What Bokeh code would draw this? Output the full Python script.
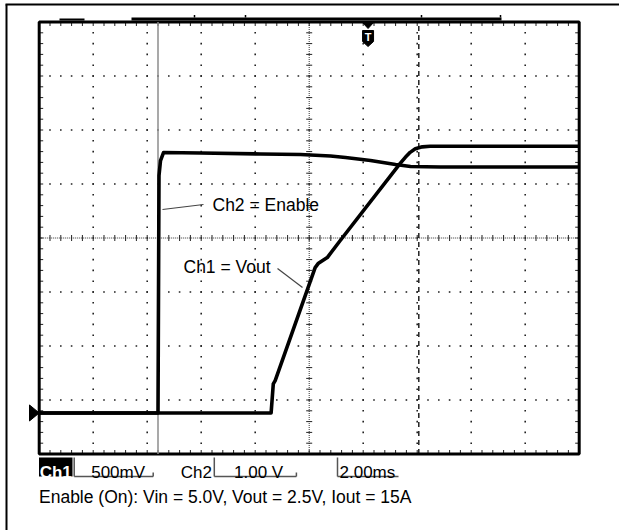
import math
from bokeh.plotting import figure
from bokeh.models import Range1d, Label
from bokeh.embed import file_html
from bokeh.resources import INLINE

# ---------------- data ----------------
# Ch1 = Vout (500 mV/div), Ch2 = Enable (1.00 V/div), 2.00 ms/div
ch1_time_ms = [0.0, 8.59, 8.67, 8.74, 10.22, 10.33, 10.67, 11.15, 13.37, 13.56, 13.74, 13.93, 14.19, 14.48, 20.0]
ch1_volts   = [0.0, 0.0, 0.27, 0.30, 1.346, 1.383, 1.439, 1.597, 2.311, 2.367, 2.413, 2.446, 2.464, 2.469, 2.469]

ch2_time_ms = [0.0, 4.40, 4.437, 4.493, 4.604, 5.974, 8.196, 9.678, 10.789, 11.344, 12.27, 13.197, 13.752, 14.863, 20.0]
ch2_volts   = [0.0, 0.0, 4.397, 4.675, 4.823, 4.814, 4.796, 4.786, 4.759, 4.731, 4.675, 4.601, 4.564, 4.555, 4.555]

scale_labels = ["Ch1", "500mV", "Ch2", "1.00 V", "2.00ms"]
caption = "Enable (On): Vin = 5.0V, Vout = 2.5V, Iout = 15A"
trace_labels = ["Ch2 = Enable", "Ch1 = Vout"]

MS_PER_DIV = 2.0
CH1_V_PER_DIV = 0.5
CH2_V_PER_DIV = 1.0
X_DIVS = 10
Y_DIVS = 8
GROUND_DIV = -3.24
CURSOR_MS = 4.40
TRIG_LINE_MS = 14.06
TRIG_MS = 12.18

# ---------------- layout (reference pixel geometry) ----------------
SCREEN_L = 38.7
SCREEN_CY = 237.5
PX_PER_MS = 27.0
PX_PER_DIV = 54.0
FIG_X, FIG_Y = 0, 0
W, H = 619, 530

def fx(px):
    return (px - SCREEN_L) / PX_PER_MS

def fy(py):
    return (SCREEN_CY - py) / PX_PER_DIV

X0, X1 = 0.0, X_DIVS * MS_PER_DIV
Y0, Y1 = -Y_DIVS / 2, Y_DIVS / 2

yb, yt = fy(FIG_Y + H), fy(FIG_Y)
p = figure(width=W, height=H, output_backend="svg", toolbar_location=None,
           x_range=Range1d(fx(FIG_X), fx(FIG_X + W)), y_range=Range1d(yb, yt),
           x_axis_type=None, y_axis_type=None, min_border=0, title=None)
p.extra_y_ranges = {
    "ch1": Range1d((yb - GROUND_DIV) * CH1_V_PER_DIV, (yt - GROUND_DIV) * CH1_V_PER_DIV),
    "ch2": Range1d((yb - GROUND_DIV) * CH2_V_PER_DIV, (yt - GROUND_DIV) * CH2_V_PER_DIV),
}
p.outline_line_color = None
p.background_fill_color = "white"
p.border_fill_color = "white"
p.grid.visible = False

FONT = "Liberation Sans"

# outer frame (top and left edges)
p.segment(x0=[fx(5), fx(6)], y0=[fy(4), fy(4)], x1=[fx(FIG_X + W), fx(6)], y1=[fy(4), fy(FIG_Y + H)],
          line_color="black", line_width=2)

# graticule dots
gx, gy = [], []
for i in range(1, X_DIVS):
    if i == X_DIVS // 2:
        continue
    for k in range(Y_DIVS * 5 + 1):
        gx.append(i * MS_PER_DIV)
        gy.append(Y0 + k * 0.2)
for j in range(1, Y_DIVS):
    if j == Y_DIVS // 2:
        continue
    for k in range(X_DIVS * 5 + 1):
        gx.append(k * MS_PER_DIV / 5)
        gy.append(Y0 + j)
p.scatter(gx, gy, marker="square", size=1.6, color="#222222", line_width=0)

# center cross lines with ticks
p.segment(x0=[X0, 10.0], y0=[0.0, Y0], x1=[X1, 10.0], y1=[0.0, Y1],
          line_color="#333333", line_width=1, line_dash="1 1")
tx0, ty0, tx1, ty1 = [], [], [], []
for k in range(X_DIVS * 5 + 1):
    x = k * MS_PER_DIV / 5
    tx0.append(x); tx1.append(x); ty0.append(-3 / PX_PER_DIV); ty1.append(3 / PX_PER_DIV)
for k in range(Y_DIVS * 5 + 1):
    y = Y0 + k * 0.2
    tx0.append(10 - 3 / PX_PER_MS); tx1.append(10 + 3 / PX_PER_MS); ty0.append(y); ty1.append(y)
# border ticks
for k in range(X_DIVS * 5 + 1):
    x = k * MS_PER_DIV / 5
    tx0 += [x, x]; tx1 += [x, x]
    ty0 += [Y1, Y0]; ty1 += [Y1 - 4 / PX_PER_DIV, Y0 + 4 / PX_PER_DIV]
for k in range(Y_DIVS * 5 + 1):
    y = Y0 + k * 0.2
    tx0 += [X0, X1]; tx1 += [X0 + 4 / PX_PER_MS, X1 - 4 / PX_PER_MS]
    ty0 += [y, y]; ty1 += [y, y]
p.segment(x0=tx0, y0=ty0, x1=tx1, y1=ty1, line_color="#222222", line_width=1)

# screen border
p.quad(left=X0, right=X1, bottom=Y0, top=Y1, fill_color=None, line_color="black", line_width=3)

# record bar above screen
p.quad(left=fx(131), right=fx(501), bottom=fy(20), top=fy(17), fill_color="black", line_color=None)
p.segment(x0=[fx(59)], y0=[fy(19)], x1=[fx(84)], y1=[fy(19)], line_color="black", line_width=2)
bar_ticks = [fx(194), fx(245), fx(421), fx(500)]
p.segment(x0=bar_ticks, y0=[fy(17)] * 4, x1=bar_ticks, y1=[fy(14.5)] * 4, line_color="black", line_width=1.5)

# cursor and trigger position lines
p.segment(x0=[CURSOR_MS], y0=[Y0], x1=[CURSOR_MS], y1=[Y1], line_color="#8c8c8c", line_width=1.5)
p.segment(x0=[TRIG_LINE_MS], y0=[Y0], x1=[TRIG_LINE_MS], y1=[Y1], line_color="black", line_width=1.3,
          line_dash="5 4")

# traces
p.line(ch2_time_ms, ch2_volts, y_range_name="ch2", line_color="black", line_width=3.6, line_join="round")
p.line(ch1_time_ms, ch1_volts, y_range_name="ch1", line_color="black", line_width=3.6, line_join="round")

# ground marker
p.patch([fx(29), fx(38.7), fx(29)], [GROUND_DIV + 8 / PX_PER_DIV, GROUND_DIV, GROUND_DIV - 8 / PX_PER_DIV],
        fill_color="black", line_color="black", line_width=1)

# trigger marker
tcx = TRIG_MS
hw = 6 / PX_PER_MS
p.patch([tcx - hw, tcx + hw, tcx], [fy(21.5), fy(21.5), fy(28)], fill_color="black", line_color="black")
sw = 5.5 / PX_PER_MS
p.patch([tcx - sw, tcx + sw, tcx + sw, tcx, tcx - sw], [fy(30), fy(30), fy(41), fy(46), fy(41)],
        fill_color="black", line_color="black", line_width=1, line_join="round")
p.add_layout(Label(x=tcx, y=fy(36.5), text="T", text_color="white", text_font=FONT, text_font_style="bold",
                   text_font_size="11px", text_align="center", text_baseline="middle"))

# trace annotations
p.segment(x0=[fx(162), fx(277)], y0=[fy(209), fy(268)], x1=[fx(203), fx(302)], y1=[fy(204), fy(287)],
          line_color="#444444", line_width=1.2)
p.add_layout(Label(x=fx(212), y=fy(204), text=trace_labels[0], text_font=FONT, text_font_size="17.5px",
                   text_color="black", text_baseline="alphabetic"))
p.add_layout(Label(x=fx(183), y=fy(266), text=trace_labels[1], text_font=FONT, text_font_size="17.5px",
                   text_color="black", text_baseline="alphabetic"))

# bottom scale readout
ROW1_TOP, ROW1_BOT, ROW1_BASE = 457.0, 476.0, 471.5
p.quad(left=fx(38.5), right=fx(72), bottom=fy(ROW1_BOT), top=fy(ROW1_TOP), fill_color="black", line_color=None)
p.add_layout(Label(x=fx(55.2), y=fy(ROW1_BASE), text=scale_labels[0], text_font=FONT, text_font_size="17px",
                   text_font_style="bold", text_color="white", text_align="center", text_baseline="alphabetic"))
br_x0 = [fx(73.7), fx(73.7), fx(152.7), fx(213.8), fx(213.8), fx(295.9), fx(337), fx(337)]
br_y0 = [fy(ROW1_TOP), fy(ROW1_BOT), fy(ROW1_BOT), fy(ROW1_TOP), fy(ROW1_BOT), fy(ROW1_BOT), fy(ROW1_TOP), fy(ROW1_BOT)]
br_x1 = [fx(73.7), fx(152.7), fx(152.7), fx(213.8), fx(295.9), fx(295.9), fx(337), fx(398)]
br_y1 = [fy(ROW1_BOT), fy(ROW1_BOT), fy(ROW1_BOT - 4), fy(ROW1_BOT), fy(ROW1_BOT), fy(ROW1_BOT - 4), fy(ROW1_BOT), fy(ROW1_BOT)]
p.segment(x0=br_x0, y0=br_y0, x1=br_x1, y1=br_y1, line_color="#555555", line_width=1.5)
for txt, xp in zip(scale_labels[1:], [90.7, 180.3, 233.5, 339.0]):
    p.add_layout(Label(x=fx(xp), y=fy(ROW1_BASE), text=txt, text_font=FONT, text_font_size="17px",
                       text_color="black", text_baseline="alphabetic"))

p.add_layout(Label(x=fx(38.5), y=fy(496), text=caption, text_font=FONT, text_font_size="17.5px",
                   text_color="black", text_baseline="alphabetic"))

open("out.html", "w").write(file_html(p, INLINE))
